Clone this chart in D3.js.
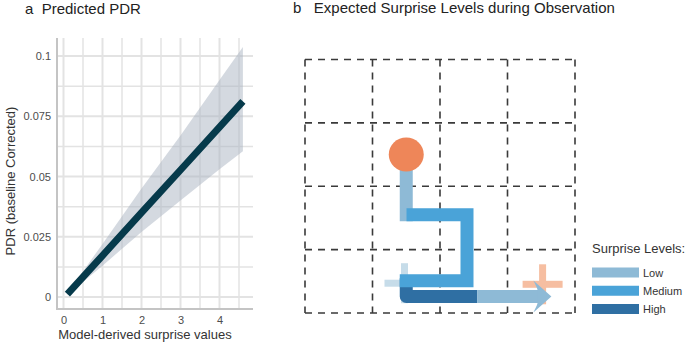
<!DOCTYPE html>
<html>
<head>
<meta charset="utf-8">
<script src="https://cdn.jsdelivr.net/npm/d3@7"></script>
<style>
  body { margin: 0; background: #ffffff; }
  svg { display: block; font-family: "Liberation Sans", Arial, sans-serif; }
  svg text { white-space: pre; }
</style>
</head>
<body>
<svg id="chart" width="685" height="344"></svg>
<script>
// panel a: predicted PDR
const surpriseX = [0.1, 1, 2, 3, 4, 4.6];
const fitPDR = [0.0012, 0.0172, 0.035, 0.0527, 0.0705, 0.0812];
const upperPDR = [0.0016, 0.022, 0.045, 0.067, 0.09, 0.1037];
const lowerPDR = [0.0009, 0.013, 0.027, 0.04, 0.053, 0.0605];
const xTicks = [0, 1, 2, 3, 4];
const yTicks = [0, 0.025, 0.05, 0.075, 0.1];
const yTickLabels = ["0", "0.025", "0.05", "0.075", "0.1"];

// panel b: path through a 4x4 grid (grid units)
const gridCols = 4;
const gridRows = 4;
const startPoint = [1.5, 1.5];
const faintCross = [1.474, 3.53];
const targetCross = [3.52, 3.547];
const pathSegments = [
  { level: "High", points: [[1.5, 3.45], [1.5, 3.74], [2.55, 3.74]] },
  { level: "Low", points: [[1.5, 1.5], [1.5, 2.45]] },
  { level: "Medium", points: [[1.6, 2.45], [2.4, 2.45], [2.4, 3.49], [1.5, 3.49]] },
  { level: "Low", points: [[2.55, 3.74], [3.5, 3.74]] }
];
const arrowTip = [3.65, 3.74];
const levelNames = ["Low", "Medium", "High"];
const levelColors = ["#8ebad6", "#4aa3d8", "#2f6fa3"];

const svg = d3.select("#chart");
const textColor = "#333333";

// ---------- panel a ----------
const x = d3.scaleLinear().domain([0, 4]).range([63.5, 219.5]);
const y = d3.scaleLinear().domain([0, 0.1]).range([297, 56]);
const plotLeft = 57, plotRight = 253, plotTop = 38, plotBottom = 309;

svg.append("text")
  .attr("x", 25).attr("y", 14)
  .attr("font-size", 15).attr("fill", "#222")
  .text("a  Predicted PDR");

const grid = svg.append("g");
const xGrid = d3.range(0, 5, 0.5);
const yGrid = d3.range(0, 0.1001, 0.0125);
grid.selectAll(".vg").data(xGrid).join("line")
  .attr("x1", d => x(d)).attr("x2", d => x(d))
  .attr("y1", plotTop).attr("y2", plotBottom)
  .attr("stroke", "#e3e3e3")
  .attr("stroke-width", d => (d % 1 === 0 ? 2 : 1.5));
grid.selectAll(".hg").data(yGrid).join("line")
  .attr("x1", plotLeft).attr("x2", plotRight)
  .attr("y1", d => y(d)).attr("y2", d => y(d))
  .attr("stroke", "#e3e3e3")
  .attr("stroke-width", (d, i) => (i % 2 === 0 ? 2 : 1.5));

svg.append("line")
  .attr("x1", plotLeft).attr("x2", plotLeft)
  .attr("y1", plotTop).attr("y2", plotBottom + 1)
  .attr("stroke", "#c4c4c4").attr("stroke-width", 2);
svg.append("line")
  .attr("x1", plotLeft).attr("x2", plotRight)
  .attr("y1", plotBottom).attr("y2", plotBottom)
  .attr("stroke", "#c4c4c4").attr("stroke-width", 2);

const bandData = surpriseX.map((v, i) => ({ x: v, lo: lowerPDR[i], hi: upperPDR[i], fit: fitPDR[i] }));
svg.append("path")
  .datum(bandData)
  .attr("d", d3.area().x(d => x(d.x)).y0(d => y(d.lo)).y1(d => y(d.hi)))
  .attr("fill", "#a9b4c2").attr("fill-opacity", 0.5);
svg.append("path")
  .datum(bandData)
  .attr("d", d3.line().x(d => x(d.x)).y(d => y(d.fit)))
  .attr("fill", "none").attr("stroke", "#063a4b").attr("stroke-width", 7);

const xAxis = svg.append("g")
  .attr("transform", "translate(0," + (plotBottom + 2) + ")")
  .call(d3.axisBottom(x).tickValues(xTicks).tickSize(0).tickPadding(5).tickFormat(d3.format("d")));
const yAxis = svg.append("g")
  .attr("transform", "translate(" + (plotLeft - 2) + ",0)")
  .call(d3.axisLeft(y).tickValues(yTicks).tickSize(0).tickPadding(4).tickFormat((d, i) => yTickLabels[i]));
[xAxis, yAxis].forEach(g => {
  g.select(".domain").remove();
  g.selectAll("text").attr("font-size", 11).attr("fill", "#4d4d4d")
    .attr("font-family", "'Liberation Sans', Arial, sans-serif");
});

svg.append("text")
  .attr("x", 145).attr("y", 339)
  .attr("text-anchor", "middle").attr("font-size", 13).attr("fill", textColor)
  .text("Model-derived surprise values");
svg.append("text")
  .attr("transform", "translate(15,181) rotate(-90)")
  .attr("text-anchor", "middle").attr("font-size", 13).attr("fill", textColor)
  .text("PDR (baseline Corrected)");

// ---------- panel b ----------
svg.append("text")
  .attr("x", 293).attr("y", 13)
  .attr("font-size", 15).attr("fill", "#222")
  .text("b   Expected Surprise Levels during Observation");

const gx = d3.scaleLinear().domain([0, gridCols]).range([305, 575]);
const gy = d3.scaleLinear().domain([0, gridRows]).range([59.5, 313]);
const color = d3.scaleOrdinal().domain(levelNames).range(levelColors);

const dash = svg.append("g")
  .attr("stroke", "#3a3a3a").attr("stroke-width", 1.6)
  .attr("stroke-dasharray", "7,6").attr("fill", "none");
dash.selectAll(".gv").data(d3.range(gridCols + 1)).join("line")
  .attr("x1", d => gx(d)).attr("x2", d => gx(d))
  .attr("y1", gy(0)).attr("y2", gy(gridRows));
dash.selectAll(".gh").data(d3.range(gridRows + 1)).join("line")
  .attr("x1", gx(0)).attr("x2", gx(gridCols))
  .attr("y1", d => gy(d)).attr("y2", d => gy(d));

function drawCross(c, col, arm, w) {
  const g = svg.append("g").attr("fill", col);
  g.append("rect").attr("x", gx(c[0]) - arm).attr("y", gy(c[1]) - w / 2)
    .attr("width", arm * 2).attr("height", w);
  g.append("rect").attr("x", gx(c[0]) - w / 2).attr("y", gy(c[1]) - arm)
    .attr("width", w).attr("height", arm * 2);
}
drawCross(faintCross, "#c6dce9", 20, 7);
drawCross(targetCross, "#f6bea1", 20, 7);

const segLine = d3.line().x(d => gx(d[0])).y(d => gy(d[1]));
pathSegments.forEach((s, i) => {
  svg.append("path")
    .attr("d", segLine(s.points))
    .attr("fill", "none")
    .attr("stroke", color(s.level))
    .attr("stroke-width", 13)
    .attr("stroke-linejoin", s.level === "High" ? "round" : "miter")
    .attr("stroke-linecap", i === 1 || i === 2 ? "square" : "butt");
});

// arrow head
const tx = gx(arrowTip[0]), ty = gy(arrowTip[1]);
svg.append("path")
  .attr("d", "M" + tx + "," + ty +
    "L" + (tx - 18) + "," + (ty - 16) +
    "Q" + (tx - 13) + "," + (ty - 6) + " " + (tx - 14) + "," + (ty - 6.5) +
    "L" + (tx - 14) + "," + (ty + 6.5) +
    "Q" + (tx - 13) + "," + (ty + 6) + " " + (tx - 18) + "," + (ty + 16) + "Z")
  .attr("fill", color("Low"));

svg.append("ellipse")
  .attr("cx", gx(startPoint[0])).attr("cy", gy(startPoint[1]))
  .attr("rx", 17.5).attr("ry", 17)
  .attr("fill", "#ee8659");

// legend
const legend = svg.append("g").attr("transform", "translate(592,0)");
legend.append("text")
  .attr("x", 0).attr("y", 253)
  .attr("font-size", 13).attr("fill", textColor)
  .text("Surprise Levels:");
const legendY = d3.scalePoint().domain(levelNames).range([272.5, 309]);
legend.selectAll(".sw").data(levelNames).join("rect")
  .attr("x", 0).attr("y", d => legendY(d) - 5)
  .attr("width", 47).attr("height", 10)
  .attr("fill", d => color(d));
legend.selectAll(".lb").data(levelNames).join("text")
  .attr("x", 51).attr("y", d => legendY(d) + 4)
  .attr("font-size", 11).attr("fill", textColor)
  .text(d => d);
</script>
</body>
</html>
